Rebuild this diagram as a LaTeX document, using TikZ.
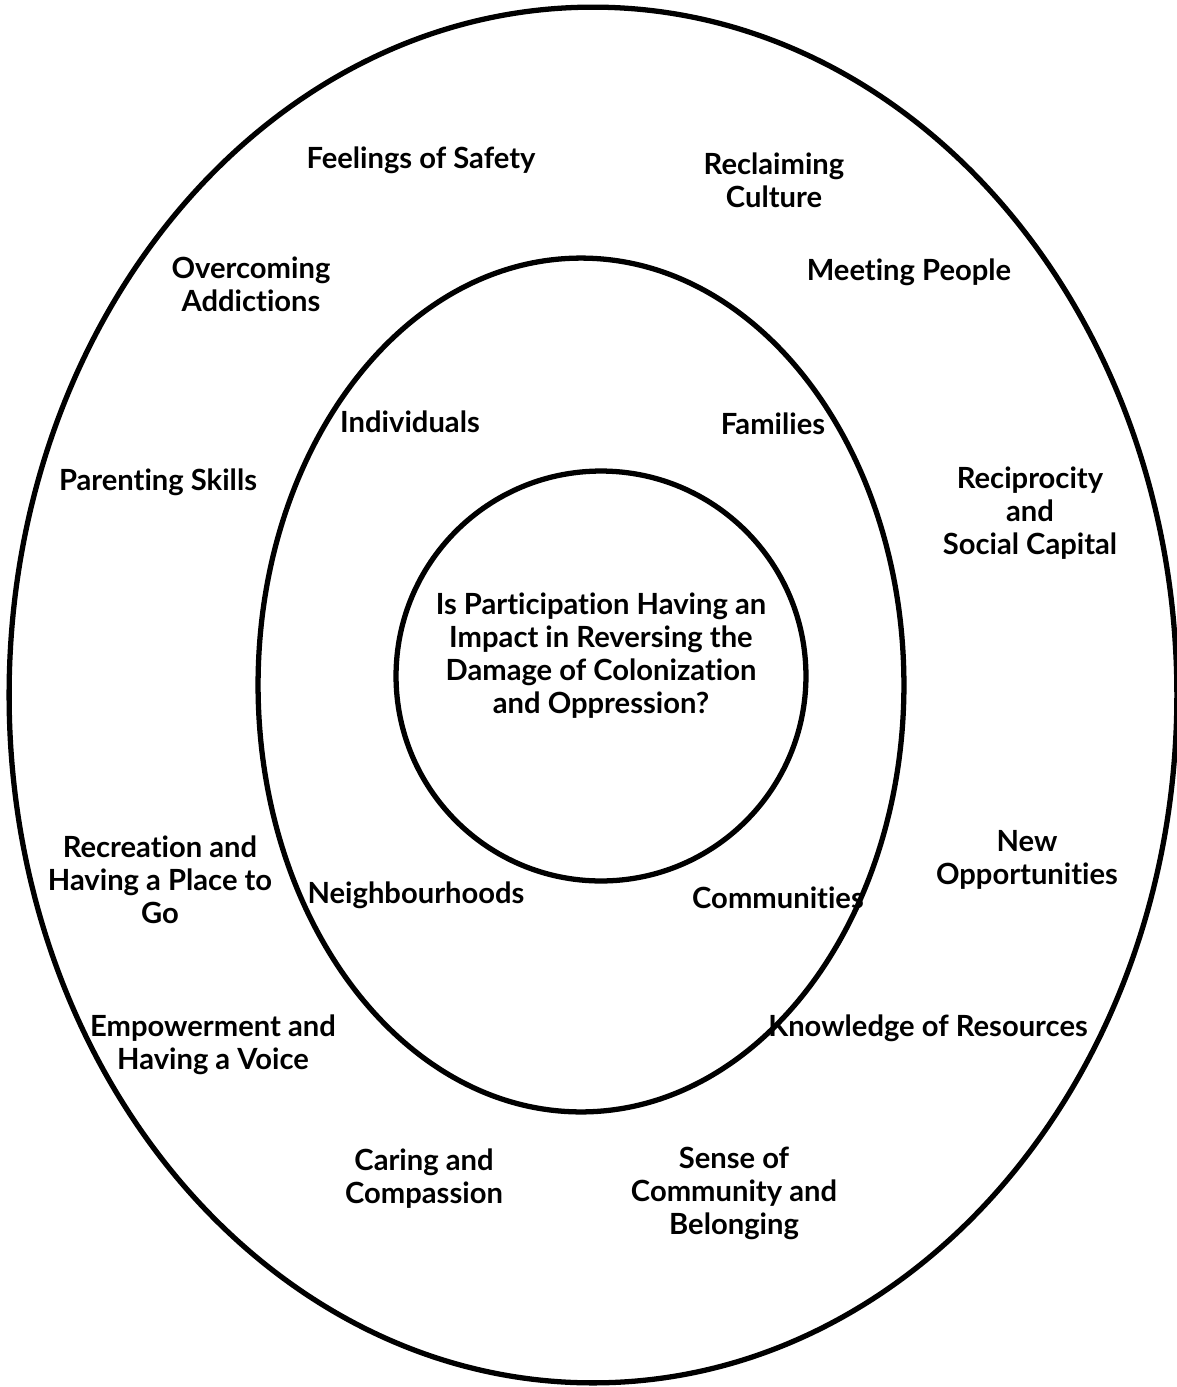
\documentclass[tikz,border=0pt]{standalone}
\usepackage{fontspec}
\setmainfont{Lato}[Ligatures=NoCommon]
\tikzset{
    ring/.style={line width=3pt},
    theme/.style={align=center, font=\bfseries\fontsize{16.6}{18.8}\selectfont, inner sep=1pt}
}
\begin{document}
\begin{tikzpicture}[x=0.02cm, y=-0.02cm]
    \useasboundingbox (0,0) rectangle (1177,1387);
    % rings
    \draw[ring] (593,695) ellipse [x radius=11.68cm, y radius=13.76cm];
    \draw[ring] (581,685) ellipse [x radius=6.46cm, y radius=8.54cm];
    \draw[ring] (601,676) circle [radius=4.1cm];
    % centre question
    \node[theme] (question) at (601,656) {Is Participation Having an\\Impact in Reversing the\\Damage of Colonization\\and Oppression?};
    % middle ring
    \node[theme] (individuals) at (410,422) {Individuals};
    \node[theme] (families) at (773,424) {Families};
    \node[theme] (neighbourhoods) at (416,895) {Neighbourhoods};
    \node[theme] (communities) at (778,898) {Communities};
    % outer ring
    \node[theme] (safety) at (421,160) {Feelings of Safety};
    \node[theme] (culture) at (774,180) {Reclaiming\\Culture};
    \node[theme] (addictions) at (251,284) {Overcoming\\Addictions};
    \node[theme] (meeting) at (909,272) {Meeting People};
    \node[theme] (parenting) at (158,482) {Parenting Skills};
    \node[theme] (reciprocity) at (1030,513) {Reciprocity\\and\\Social Capital};
    \node[theme] (recreation) at (160,880) {Recreation and\\Having a Place to\\Go};
    \node[theme] (opportunities) at (1027,860) {New\\Opportunities};
    \node[theme] (empowerment) at (213,1045) {Empowerment and\\Having a Voice};
    \node[theme] (knowledge) at (928,1028) {Knowledge of Resources};
    \node[theme] (caring) at (424,1179) {Caring and\\Compassion};
    \node[theme] (belonging) at (734,1193) {Sense of\\Community and\\Belonging};
\end{tikzpicture}
\end{document}
